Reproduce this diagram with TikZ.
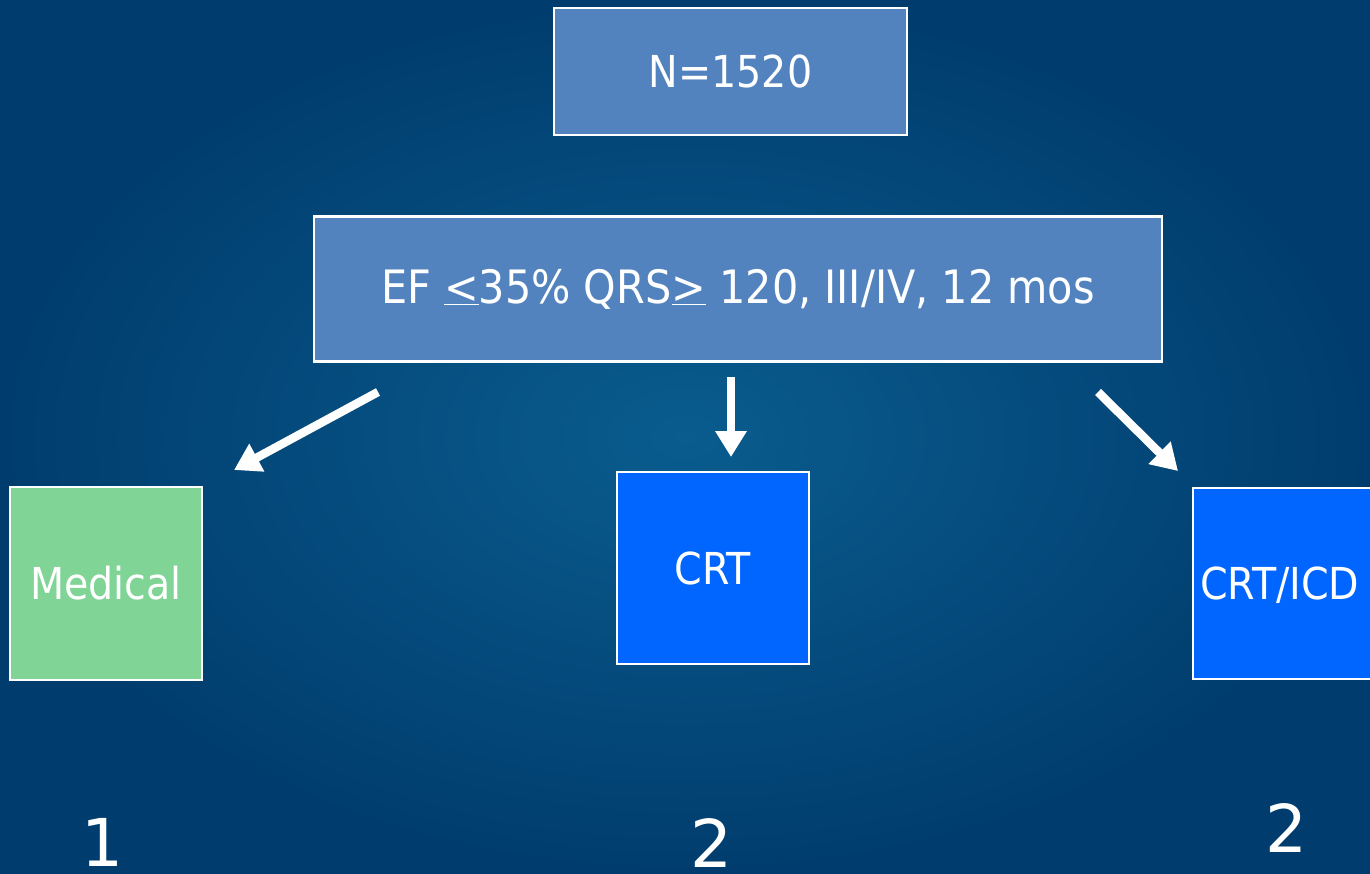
\documentclass[tikz,border=0pt]{standalone}
\usepackage{fontspec}
\setmainfont{DejaVu Sans Condensed}
\newfontfamily\numfont{DejaVu Sans}
\usetikzlibrary{arrows.meta}
\definecolor{bgin}{HTML}{0A5C8E}
\definecolor{bgout}{HTML}{003D6E}
\definecolor{steel}{HTML}{5283BF}
\definecolor{medgreen}{HTML}{80D496}
\definecolor{crtblue}{HTML}{0066FF}
\tikzset{
  box/.style={draw=white, line width=2.5pt, text=white, inner sep=0pt, align=center,
    font=\fontsize{44}{50}\selectfont},
  arr/.style={draw=white, line width=8.5pt, -{Triangle[length=26pt,width=30pt]}},
  num/.style={text=white, inner sep=0pt, font=\numfont\fontsize{66}{70}\selectfont}
}
\begin{document}
\begin{tikzpicture}[x=1pt,y=-1pt]
\path[use as bounding box, inner color=bgin, outer color=bgout] (0,0) rectangle (1370,873);
\begin{scope}
\clip (0,0) rectangle (1370,873);
\node[box, fill=steel, minimum width=353pt, minimum height=127pt] (n) at (730.5,71.5) {N=1520};
\node[box, fill=steel, minimum width=848pt, minimum height=145pt, font=\fontsize{46}{52}\selectfont] (ef) at (738,289)
  {EF \underline{<}35\% QRS\underline{>} 120, III/IV, 12 mos};
\node[box, fill=medgreen, minimum width=192pt, minimum height=193pt] (med) at (106,583.5) {Medical};
\node[box, fill=crtblue, minimum width=192pt, minimum height=192pt] (crt) at (713,568) {CRT};
\node[box, fill=crtblue, minimum width=192pt, minimum height=191pt] (icd) at (1289,583.5) {};
\node[text=white, inner sep=0pt, anchor=west, font=\fontsize{44}{50}\selectfont] (icdt) at (1200,585) {CRT/ICD};
\coordinate (a1s) at (378,392); \coordinate (a1e) at (234,470);
\coordinate (a2s) at (731,377); \coordinate (a2e) at (731,457);
\coordinate (a3s) at (1098,392); \coordinate (a3e) at (1178,471);
\draw[arr] (a1s) -- (a1e);
\draw[arr] (a2s) -- (a2e);
\draw[arr] (a3s) -- (a3e);
\node[num] (n1) at (102,842) {1};
\node[num] (n2) at (711,843) {2};
\node[num] (n3) at (1286,828) {2};
\end{scope}
\end{tikzpicture}
\end{document}
